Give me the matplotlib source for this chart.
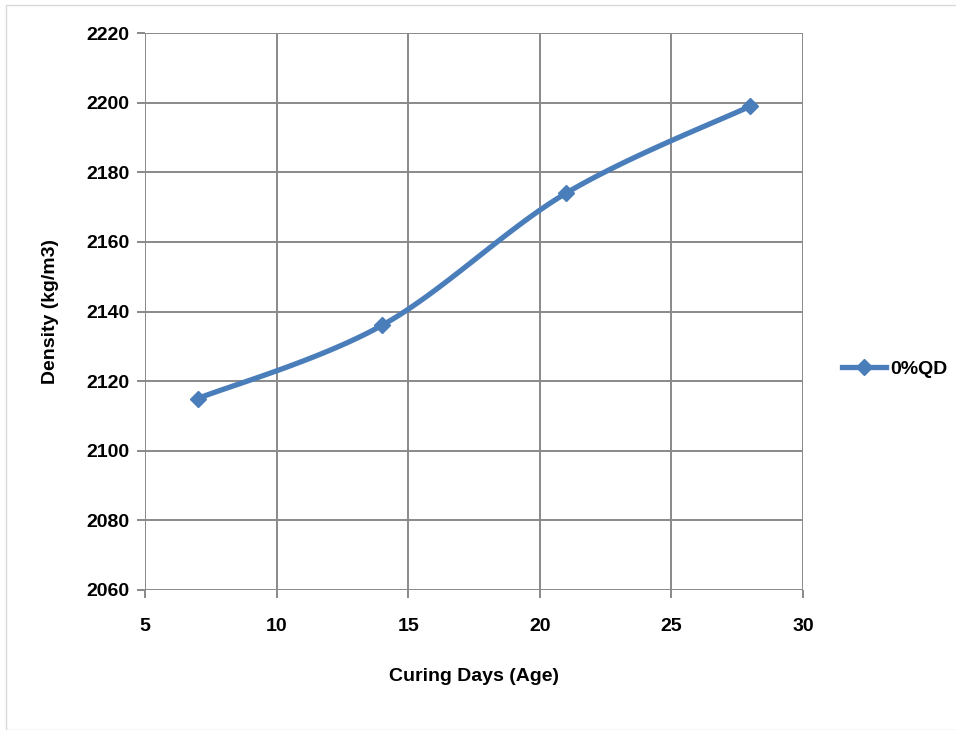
import matplotlib
matplotlib.use("Agg")
import matplotlib.pyplot as plt
from matplotlib.patches import Rectangle
from matplotlib.lines import Line2D
import numpy as np

days = [7, 14, 21, 28]
density = [2115, 2136, 2174, 2199]
series_name = "0%QD"
x_label = "Curing Days (Age)"
y_label = "Density (kg/m3)"

LINE_COLOR = "#4A7EBB"
GRID_COLOR = "#898989"

plt.rcParams["font.family"] = ["Liberation Sans", "DejaVu Sans"]
plt.rcParams["font.weight"] = "bold"


def smooth_curve(xs, ys, n=40):
    # cubic Bezier through the points, Catmull-Rom style control points
    pts = np.column_stack([xs, ys]).astype(float)
    ext = np.vstack([pts[0], pts, pts[-1]])
    out = []
    for i in range(len(pts) - 1):
        p0, p1, p2, p3 = ext[i], ext[i + 1], ext[i + 2], ext[i + 3]
        c1 = p1 + (p2 - p0) / 6.0
        c2 = p2 - (p3 - p1) / 6.0
        t = np.linspace(0, 1, n)[:, None]
        seg = ((1 - t) ** 3 * p1 + 3 * (1 - t) ** 2 * t * c1
               + 3 * (1 - t) * t ** 2 * c2 + t ** 3 * p2)
        out.append(seg if i == 0 else seg[1:])
    out = np.vstack(out)
    return out[:, 0], out[:, 1]


W, H = 956, 730
fig = plt.figure(figsize=(W / 100, H / 100), dpi=100)
fig.patches.append(Rectangle((6 / W, 0), 1, 1 - 5 / H, transform=fig.transFigure,
                             fill=False, edgecolor="#d9d9d9", linewidth=1.0))

ax = fig.add_axes([145 / W, 1 - 590 / H, (803 - 145) / W, (590 - 33) / H])
ax.set_xlim(5, 30)
ax.set_ylim(2060, 2220)
ax.set_xticks(np.arange(5, 31, 5))
ax.set_yticks(np.arange(2060, 2221, 20))
ax.grid(True, color=GRID_COLOR, linewidth=1.4)
for s in ax.spines.values():
    s.set_visible(False)
ax.tick_params(length=6, width=1.4, color=GRID_COLOR, labelsize=14)
ax.tick_params(axis="x", pad=14)
ax.tick_params(axis="y", pad=5)
for lab in ax.get_xticklabels() + ax.get_yticklabels():
    lab.set_fontweight("bold")

sx, sy = smooth_curve(days, density)
ax.plot(sx, sy, color=LINE_COLOR, linewidth=3.8, solid_capstyle="butt", zorder=3)
ax.plot(days, density, linestyle="none", marker="D", markersize=8,
        color=LINE_COLOR, zorder=4, clip_on=False)

ax.set_xlabel(x_label, fontsize=14, fontweight="bold", labelpad=24)
ax.set_ylabel(y_label, fontsize=14, fontweight="bold", labelpad=20)

handle = Line2D([], [], color=LINE_COLOR, linewidth=3.8, marker="D",
                markersize=8)
fig.legend([handle], [series_name], loc="center left",
           bbox_to_anchor=(824 / W, 1 - 369 / H), frameon=False,
           prop={"size": 14, "weight": "bold"}, handlelength=2.3,
           handletextpad=0.2)

fig.savefig("out.png", dpi=100, facecolor="white")
